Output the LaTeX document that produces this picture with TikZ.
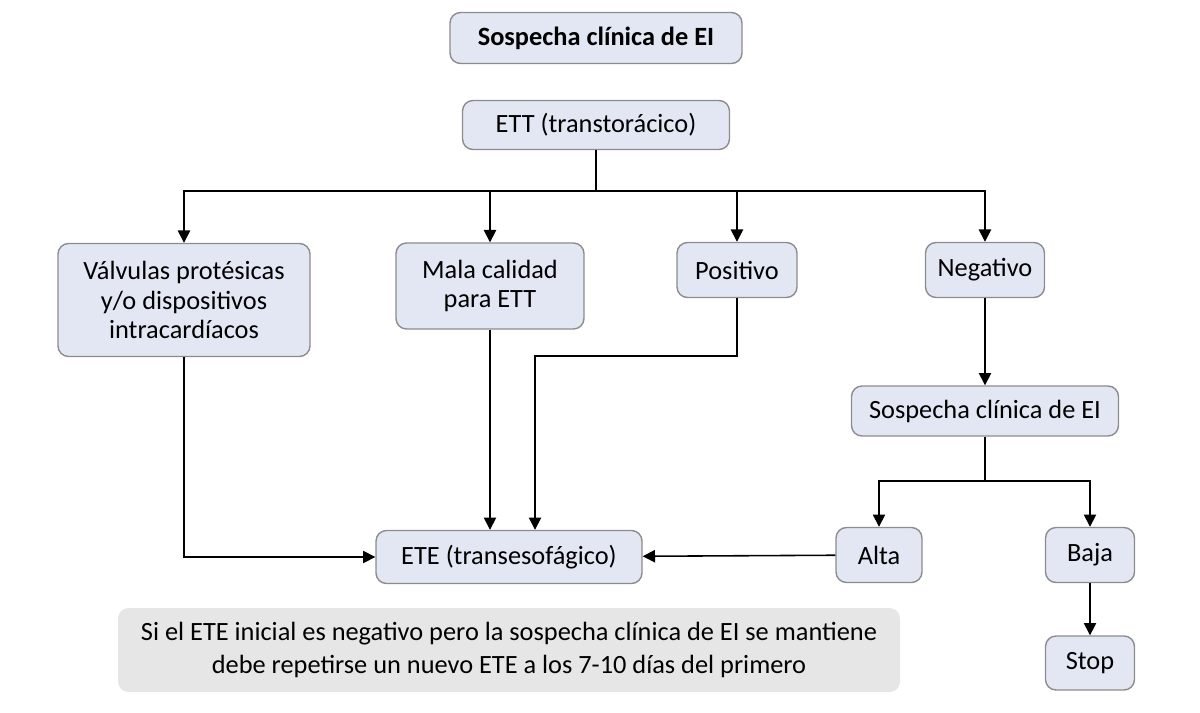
\documentclass[tikz,border=0pt]{standalone}
\usepackage{fontspec}
\setmainfont{Carlito}
\usetikzlibrary{arrows.meta,positioning,calc}
\definecolor{boxfill}{HTML}{E2E7F3}
\definecolor{boxline}{HTML}{8C8C8C}
\definecolor{notefill}{HTML}{E6E6E6}
\begin{document}
\begin{tikzpicture}[x=0.02cm,y=-0.02cm,
	box/.style={draw=boxline,fill=boxfill,rounded corners=6pt,line width=0.8pt,align=center,
		font=\fontsize{15}{17}\selectfont,inner sep=0pt},
	arr/.style={-{Triangle[length=7pt,width=7pt]},line width=0.9pt},
	ln/.style={line width=0.9pt}
	]
	\useasboundingbox (0,0) rectangle (1200,713);
	% top of the chart
	\node[box,minimum width=292*0.02cm,minimum height=51*0.02cm,font=\bfseries\fontsize{15}{17}\selectfont] (susp) at (596,38) {Sospecha clínica de EI};
	\node[box,minimum width=267*0.02cm,minimum height=49*0.02cm] (ett) at (596,125) {ETT (transtorácico)};
	% first row
	\node[box,minimum width=252*0.02cm,minimum height=113*0.02cm] (valv) at (184,300) {Válvulas protésicas\\y/o dispositivos\\intracardíacos};
	\node[box,minimum width=188*0.02cm,minimum height=86*0.02cm] (mala) at (490,286) {Mala calidad\\para ETT};
	\node[box,minimum width=120*0.02cm,minimum height=55*0.02cm] (pos) at (737,270) {Positivo};
	\node[box,minimum width=119*0.02cm,minimum height=55*0.02cm] (neg) at (985,270) {Negativo};
	% right side
	\node[box,minimum width=267*0.02cm,minimum height=50*0.02cm] (susp2) at (985,411) {Sospecha clínica de EI};
	\node[box,minimum width=86*0.02cm,minimum height=55*0.02cm] (alta) at (879,555) {Alta};
	\node[box,minimum width=89*0.02cm,minimum height=55*0.02cm] (baja) at (1090,555) {Baja};
	\node[box,minimum width=89*0.02cm,minimum height=54*0.02cm] (stop) at (1090,663) {Stop};
	\node[box,minimum width=266*0.02cm,minimum height=53*0.02cm] (ete) at (509,557) {ETE (transesofágico)};
	\node[fill=notefill,rounded corners=6pt,minimum width=782*0.02cm,minimum height=84*0.02cm,align=center,
		font=\fontsize{15}{19}\selectfont,inner sep=0pt] (note) at (509,650)
		{Si el ETE inicial es negativo pero la sospecha clínica de EI se mantiene\\debe repetirse un nuevo ETE a los 7-10 días del primero};
	% connectors
	\coordinate (split) at (596,191);
	\draw[ln] (ett) -- (split);
	\draw[arr] (split) -| (valv.north);
	\draw[arr] (split) -| (mala.north);
	\draw[arr] (split) -| (pos.north);
	\draw[arr] (split) -| (neg.north);
	\draw[arr] (neg) -- (susp2);
	\coordinate (split2) at (985,481);
	\draw[ln] (susp2) -- (split2);
	\draw[arr] (split2) -| (alta.north);
	\draw[arr] (split2) -| (baja.north);
	\draw[arr] (baja) -- (stop);
	\draw[arr] (alta) -- (ete);
	\draw[arr] (valv.south) |- (ete.west);
	\draw[arr] (mala.south) -- (mala.south |- ete.north);
	\coordinate (bend) at (535,356);
	\draw[arr] (pos.south) |- (bend) -- (bend |- ete.north);
\end{tikzpicture}
\end{document}
